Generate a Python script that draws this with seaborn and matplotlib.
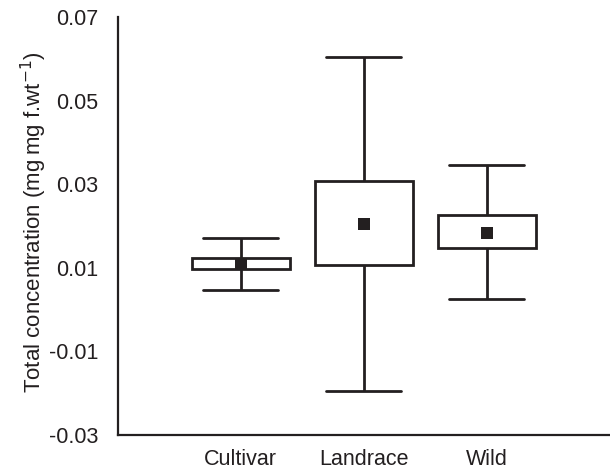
### Bibliotheken
import numpy as np
import pandas as pd
import matplotlib
matplotlib.use("Agg")
import matplotlib.pyplot as plt
import seaborn as sns

### Daten
groups = ["Cultivar", "Landrace", "Wild"]
whisker_low = [0.0047, -0.0194, 0.0025]
box_low = [0.0097, 0.0107, 0.0147]
box_high = [0.0123, 0.0308, 0.0226]
whisker_high = [0.0171, 0.0604, 0.0346]
means = [0.0109, 0.0205, 0.0184]

y_ticks = [-0.03, -0.01, 0.01, 0.03, 0.05, 0.07]
y_tick_labels = ["-0.03", "-0.01", "0.01", "0.03", "0.05", "0.07"]

dark = "#231f20"

### Datenstruktur: fünf Werte je Gruppe -> Quartile = Box, Min/Max = Whisker
rows = []
for g, lo, q1, m, q3, hi in zip(groups, whisker_low, box_low, means, box_high, whisker_high):
    for v in (lo, q1, m, q3, hi):
        rows.append({"group": g, "value": v})
df = pd.DataFrame(rows)
df_mean = pd.DataFrame({"group": groups, "value": means})

sns.set_style("white")
plt.rcParams["font.family"] = ["Liberation Sans", "DejaVu Sans"]
plt.rcParams["axes.unicode_minus"] = False

fig = plt.figure(figsize=(6.1, 4.7), dpi=100)
ax = fig.add_axes([0.193, 0.0745, 0.807, 0.8895])

sns.boxplot(data=df, x="group", y="value", order=groups, whis=(0, 100),
            width=0.8, color="white", linecolor=dark, linewidth=2,
            fliersize=0, medianprops={"visible": False}, ax=ax)

# Kappen breiter machen (Referenz: ~75 % der Boxbreite)
for line in ax.lines:
    xd = np.asarray(line.get_xdata(), dtype=float)
    yd = np.asarray(line.get_ydata(), dtype=float)
    if len(xd) == 2 and yd[0] == yd[1] and xd[0] != xd[1]:
        c = xd.mean()
        line.set_xdata([c - 0.305, c + 0.305])

sns.stripplot(data=df_mean, x="group", y="value", order=groups, jitter=False,
              marker="s", size=8.6, color=dark, linewidth=0, zorder=4, ax=ax)

ax.set_ylim(-0.03, 0.07)
ax.set_xlim(-1.0, 3.0)
ax.set_yticks(y_ticks)
ax.set_yticklabels(y_tick_labels)
ax.set_xlabel("")
ax.set_ylabel("Total concentration (mg\u2009mg f.wt$^{-1}$)", fontsize=16,
              color=dark)
ax.yaxis.set_label_coords(-0.14, 0.51)

for side in ("top", "right"):
    ax.spines[side].set_visible(False)
for side in ("left", "bottom"):
    ax.spines[side].set_color(dark)
    ax.spines[side].set_linewidth(1.6)

ax.tick_params(axis="both", direction="in", length=3, width=1.2, color=dark,
               labelsize=15.5, labelcolor=dark)
ax.tick_params(axis="y", pad=14)
ax.tick_params(axis="x", pad=10)

fig.savefig("out.png", dpi=100)
